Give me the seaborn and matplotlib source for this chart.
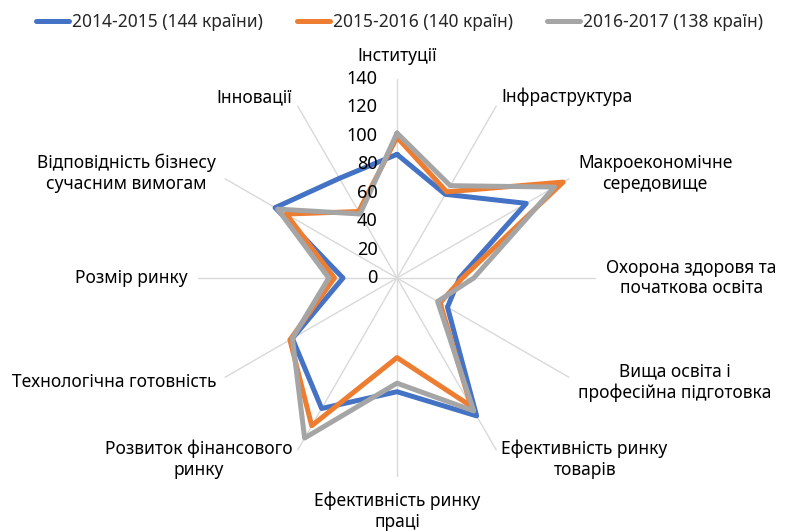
import matplotlib.pyplot as plt
import numpy as np
import pandas as pd
import seaborn as sns
from matplotlib.lines import Line2D

categories = [
    "Інституції",
    "Інфраструктура",
    "Макроекономічне\nсередовище",
    "Охорона здоровя та\nпочаткова освіта",
    "Вища освіта і\nпрофесійна підготовка",
    "Ефективність ринку\nтоварів",
    "Ефективність ринку\nпраці",
    "Розвиток фінансового\nринку",
    "Технологічна готовність",
    "Розмір ринку",
    "Відповідність бізнесу\nсучасним вимогам",
    "Інновації",
]
series_names = ["2014-2015 (144 країни)", "2015-2016 (140 країн)", "2016-2017 (138 країн)"]
y2014 = [87, 68, 105, 44, 41, 112, 80, 106, 85, 38, 99, 81]
y2015 = [99, 70, 135, 46, 35, 104, 56, 120, 87, 44, 90, 54]
y2016 = [102, 75, 128, 54, 33, 108, 74, 130, 85, 48, 97, 52]
r_ticks = [0, 20, 40, 60, 80, 100, 120, 140]
colors = ["#4472C4", "#ED7D31", "#A5A5A5"]

sns.set_style("white")
plt.rcParams["font.family"] = ["Noto Sans", "DejaVu Sans"]
plt.rcParams["font.size"] = 12

n = len(categories)
angles = np.linspace(0, 2 * np.pi, n, endpoint=False)

# long table, each polygon closed by repeating the first point
rows = []
for name, vals in zip(series_names, [y2014, y2015, y2016]):
    for i in range(n + 1):
        rows.append({"theta": angles[i % n], "value": vals[i % n], "series": name})
df = pd.DataFrame(rows)

fig = plt.figure(figsize=(7.91, 5.31), dpi=100)
ax = fig.add_axes([0.2503, 0.1017, 0.5032, 0.7495], projection="polar")
ax.set_theta_offset(np.pi / 2)
ax.set_theta_direction(-1)

sns.lineplot(data=df, x="theta", y="value", hue="series", palette=colors,
             sort=False, estimator=None, linewidth=3.6, legend=False, ax=ax)

ax.set_ylim(0, 140)
ax.set_yticks(r_ticks)
ax.set_yticklabels([])
ax.yaxis.grid(False)
ax.set_xticks(angles)
ax.set_xticklabels([])
ax.xaxis.grid(True, color="#D9D9D9", linewidth=1)
ax.spines["polar"].set_visible(False)
ax.set_xlabel("")
ax.set_ylabel("")

for v in r_ticks:
    ax.annotate(str(v), xy=(0, v), xytext=(-14, 0), textcoords="offset points",
                ha="right", va="center", fontsize=13, color="#000000")

for ang, lab in zip(angles, categories):
    deg = np.degrees(ang)
    if np.isclose(deg, 0):
        ha, va, r = "center", "bottom", 150
    elif np.isclose(deg, 180):
        ha, va, r = "center", "top", 150
    elif deg < 180:
        ha, va, r = "left", "center", 147
    else:
        ha, va, r = "right", "center", 147
    ax.text(ang, r, lab, ha=ha, va=va, multialignment="center",
            fontsize=12.5, color="#000000")

handles = [Line2D([], [], color=c, linewidth=3.6) for c in colors]
fig.legend(handles, series_names, loc="upper center", bbox_to_anchor=(0.505, 1.005),
           ncol=3, frameon=False, handlelength=1.9, handletextpad=0.15,
           columnspacing=2.0, fontsize=12.5)

fig.savefig("out.png", dpi=100)
